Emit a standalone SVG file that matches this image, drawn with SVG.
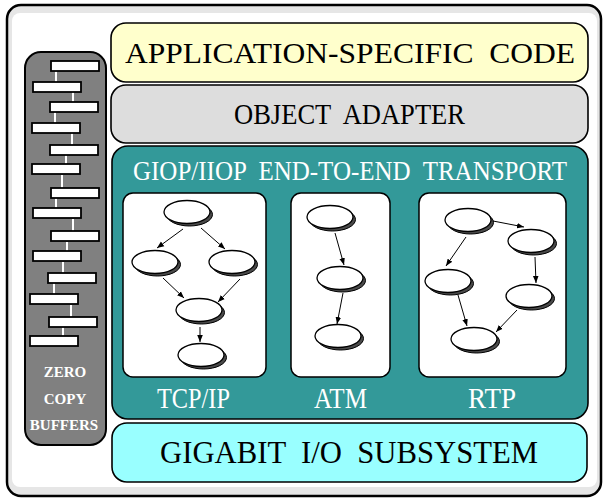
<svg xmlns="http://www.w3.org/2000/svg" xmlns:xlink="http://www.w3.org/1999/xlink" width="603" height="502" viewBox="0 0 603 502">
  <style>
    .layer { stroke: #000; stroke-width: 1.6; }
    .panel { fill: #fff; stroke: #000; stroke-width: 1.5; }
    .serif { font-family: "Liberation Serif", "Times New Roman", serif; white-space: pre; }
    .dark { fill: #000; }
    .light { fill: #fff; }
    .buf { fill: #fff; stroke: #000; stroke-width: 1.8; }
    .link { stroke: #fff; stroke-width: 2; }
    .edge { stroke: #000; stroke-width: 1; fill: none; marker-end: url(#arrow); }
    .shadow { fill: #4a4a4a; stroke: #000; stroke-width: 1; }
    .face { fill: #fff; stroke: #000; stroke-width: 1.3; }
  </style>
  <defs>
    <marker id="arrow" viewBox="0 0 10 10" refX="10" refY="5" markerWidth="7" markerHeight="7" markerUnits="userSpaceOnUse" orient="auto">
      <path d="M0,1 L10,5 L0,9 z" fill="#000"/>
    </marker>
    <g id="oval">
      <ellipse cx="2.5" cy="2.5" rx="23" ry="11.5" class="shadow"/>
      <ellipse cx="0" cy="0" rx="23" ry="11.5" class="face"/>
    </g>
  </defs>

  <!-- outer frame with bevel -->
  <g id="frame">
    <rect x="7" y="5" width="594" height="491" rx="14" fill="#e6e6e6" stroke="#000" stroke-width="2.5"/>
    <rect x="12" y="13" width="585" height="474" rx="8" fill="#fff"/>
  </g>

  <!-- zero copy buffers column -->
  <g id="buffers">
    <rect x="25" y="52" width="81" height="393" rx="16" fill="#808080" stroke="#000" stroke-width="2"/>
    <g class="links">
      <line class="link" x1="56" y1="71" x2="56" y2="82"/>
      <line class="link" x1="73" y1="92" x2="73" y2="102"/>
      <line class="link" x1="55" y1="112" x2="55" y2="123"/>
      <line class="link" x1="72" y1="133" x2="72" y2="145"/>
      <line class="link" x1="66" y1="155" x2="66" y2="164"/>
      <line class="link" x1="62" y1="175" x2="62" y2="188"/>
      <line class="link" x1="56" y1="198" x2="56" y2="208"/>
      <line class="link" x1="73" y1="219" x2="73" y2="231"/>
      <line class="link" x1="67" y1="242" x2="67" y2="251"/>
      <line class="link" x1="63" y1="262" x2="63" y2="273"/>
      <line class="link" x1="54" y1="283" x2="54" y2="294"/>
      <line class="link" x1="71" y1="305" x2="71" y2="317"/>
      <line class="link" x1="63" y1="327" x2="63" y2="336"/>
    </g>
    <rect class="buf" x="51" y="61" width="48" height="10"/>
    <rect class="buf" x="33" y="82" width="48" height="10"/>
    <rect class="buf" x="50" y="102" width="48" height="10"/>
    <rect class="buf" x="32" y="123" width="48" height="10"/>
    <rect class="buf" x="50" y="145" width="48" height="10"/>
    <rect class="buf" x="32" y="164" width="48" height="10"/>
    <rect class="buf" x="51" y="188" width="48" height="10"/>
    <rect class="buf" x="33" y="208" width="48" height="10"/>
    <rect class="buf" x="51" y="231" width="48" height="10"/>
    <rect class="buf" x="33" y="251" width="48" height="10"/>
    <rect class="buf" x="48" y="273" width="48" height="10"/>
    <rect class="buf" x="30" y="294" width="48" height="10"/>
    <rect class="buf" x="49" y="317" width="48" height="10"/>
    <rect class="buf" x="30" y="336" width="48" height="10"/>
    <g class="serif light" font-size="15" font-weight="bold" text-anchor="middle">
      <text x="65" y="377">ZERO</text>
      <text x="65" y="404">COPY</text>
      <text x="64" y="430">BUFFERS</text>
    </g>
  </g>

  <!-- layer stack -->
  <g id="app-code">
    <rect class="layer" x="111" y="23" width="477" height="59" rx="15" fill="#ffffcc"/>
    <text class="serif dark" x="125" y="63" font-size="30" textLength="450" lengthAdjust="spacingAndGlyphs">APPLICATION-SPECIFIC  CODE</text>
  </g>
  <g id="object-adapter">
    <rect class="layer" x="111" y="85" width="477" height="58" rx="15" fill="#dddddd"/>
    <text class="serif dark" x="234" y="124" font-size="29" textLength="231" lengthAdjust="spacingAndGlyphs">OBJECT  ADAPTER</text>
  </g>
  <g id="transport">
    <rect class="layer" x="112" y="146" width="476" height="273" rx="16" fill="#339999"/>
    <text class="serif light" x="133" y="180" font-size="27" textLength="434" lengthAdjust="spacingAndGlyphs">GIOP/IIOP  END-TO-END  TRANSPORT</text>
    <text class="serif light" x="157" y="408" font-size="30" textLength="73" lengthAdjust="spacingAndGlyphs">TCP/IP</text>
    <text class="serif light" x="314" y="408" font-size="30" textLength="53" lengthAdjust="spacingAndGlyphs">ATM</text>
    <text class="serif light" x="468" y="408" font-size="30" textLength="48" lengthAdjust="spacingAndGlyphs">RTP</text>
  </g>
  <g id="gigabit-io">
    <rect class="layer" x="112" y="423" width="475" height="59" rx="15" fill="#99ffff"/>
    <text class="serif dark" x="160" y="463" font-size="32" textLength="378" lengthAdjust="spacingAndGlyphs">GIGABIT  I/O  SUBSYSTEM</text>
  </g>

  <!-- protocol graph panels -->
  <g id="panel-tcpip">
    <rect class="panel" x="123" y="193" width="143" height="184" rx="10"/>
  </g>
  <g id="panel-atm">
    <rect class="panel" x="291" y="193" width="99" height="184" rx="10"/>
  </g>
  <g id="panel-rtp">
    <rect class="panel" x="419" y="193" width="147" height="184" rx="10"/>
  </g>

  <!-- protocol graph nodes -->
  <g id="tcp-n1"><use xlink:href="#oval" x="187" y="212"/></g>
  <g id="tcp-n2"><use xlink:href="#oval" x="155" y="262"/></g>
  <g id="tcp-n3"><use xlink:href="#oval" x="232" y="262"/></g>
  <g id="tcp-n4"><use xlink:href="#oval" x="199" y="310"/></g>
  <g id="tcp-n5"><use xlink:href="#oval" x="201" y="355"/></g>

  <g id="atm-n1"><use xlink:href="#oval" x="330" y="217"/></g>
  <g id="atm-n2"><use xlink:href="#oval" x="340" y="278"/></g>
  <g id="atm-n3"><use xlink:href="#oval" x="338" y="336"/></g>

  <g id="rtp-n1"><use xlink:href="#oval" x="468" y="220"/></g>
  <g id="rtp-n2"><use xlink:href="#oval" x="531" y="241"/></g>
  <g id="rtp-n3"><use xlink:href="#oval" x="448" y="281"/></g>
  <g id="rtp-n4"><use xlink:href="#oval" x="529" y="296"/></g>
  <g id="rtp-n5"><use xlink:href="#oval" x="474" y="339"/></g>

  <!-- connectors -->
  <g id="edges">
    <line class="edge" x1="183" y1="229" x2="157" y2="248"/>
    <line class="edge" x1="201" y1="228" x2="225" y2="249"/>
    <line class="edge" x1="163" y1="278" x2="184" y2="298"/>
    <line class="edge" x1="240" y1="279" x2="218" y2="302"/>
    <line class="edge" x1="200" y1="327" x2="200" y2="342"/>

    <line class="edge" x1="335" y1="233" x2="344" y2="265"/>
    <line class="edge" x1="343" y1="293" x2="337" y2="324"/>

    <line class="edge" x1="493" y1="221" x2="524" y2="227"/>
    <line class="edge" x1="466" y1="237" x2="446" y2="266"/>
    <line class="edge" x1="535" y1="257" x2="536" y2="283"/>
    <line class="edge" x1="458" y1="295" x2="467" y2="326"/>
    <line class="edge" x1="517" y1="310" x2="496" y2="332"/>
  </g>
</svg>
